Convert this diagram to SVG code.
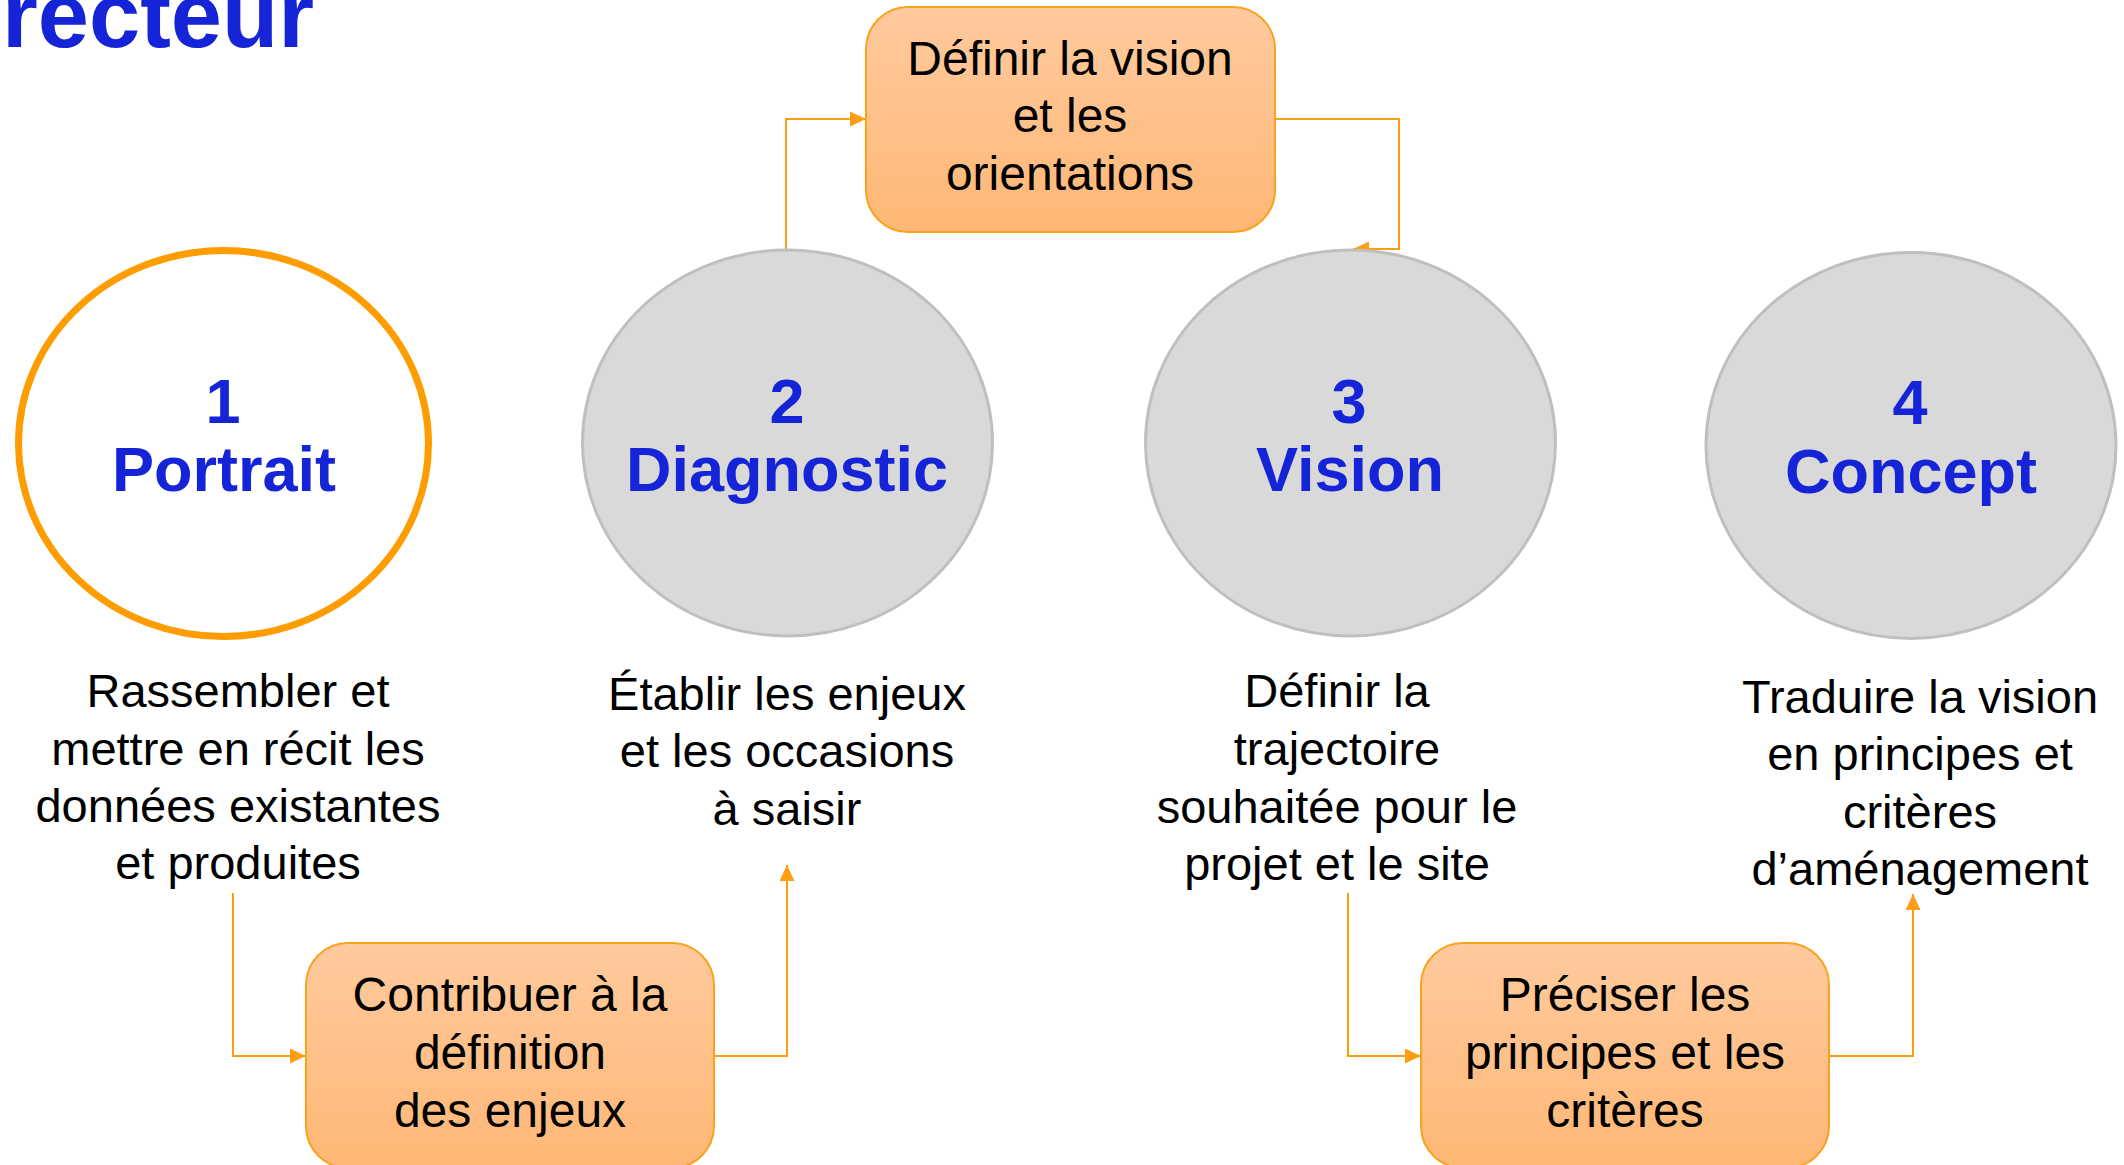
<svg xmlns="http://www.w3.org/2000/svg" width="2124" height="1165" viewBox="0 0 2124 1165">
  <style>
    .desc { font-family: "Liberation Sans", Arial, sans-serif; font-size: 47px; fill: #000; text-anchor: middle; }
    .boxt { font-family: "Liberation Sans", Arial, sans-serif; font-size: 48px; fill: #000; text-anchor: middle; }
    .num { font-family: "Liberation Sans", Arial, sans-serif; font-weight: bold; font-size: 63px; fill: #1424D6; text-anchor: middle; }
    .title { font-family: "Liberation Sans", Arial, sans-serif; font-weight: bold; font-size: 92px; fill: #1424D6; }
    .gray { fill: #D9D9D9; stroke: #BFBFBF; stroke-width: 3; }
    .box { fill: url(#peach); stroke: #F9A21B; stroke-width: 2; }
    .conn { fill: none; stroke: #FF9E12; stroke-width: 2; marker-end: url(#arr); }
  </style>
  <defs>
    <linearGradient id="peach" x1="0" y1="0" x2="0" y2="1">
      <stop offset="0" stop-color="#FFCA9E"/>
      <stop offset="1" stop-color="#FFB775"/>
    </linearGradient>
    <marker id="arr" viewBox="0 0 16 15" refX="16" refY="7.5" markerWidth="16" markerHeight="15" markerUnits="userSpaceOnUse" orient="auto">
      <path d="M0,0 L16,7.5 L0,15 z" fill="#FF9E12"/>
    </marker>
  </defs>
  <rect width="2124" height="1165" fill="#FFFFFF"/>

  <text class="title" x="2" y="47">recteur</text>

  <g id="connectors">
    <path class="conn" d="M786,249 V119 H866"/>
    <path class="conn" d="M1275,119 H1399 V249 H1353"/>
    <path class="conn" d="M233,893 V1056 H306"/>
    <path class="conn" d="M714,1056 H787 V865"/>
    <path class="conn" d="M1348,893 V1056 H1421"/>
    <path class="conn" d="M1829,1056 H1913 V894"/>
  </g>

  <g id="box-vision">
    <rect class="box" x="866" y="7" width="409" height="225" rx="42"/>
    <text class="boxt" x="1070" y="75">Définir la vision</text>
    <text class="boxt" x="1070" y="132">et les</text>
    <text class="boxt" x="1070" y="190">orientations</text>
  </g>

  <g id="node-1">
    <ellipse cx="223.5" cy="443.5" rx="205" ry="193" fill="#FFFFFF" stroke="#FF9C00" stroke-width="7"/>
    <text class="num" x="223" y="423">1</text>
    <text class="num" x="224" y="491">Portrait</text>
  </g>
  <g id="node-2">
    <ellipse class="gray" cx="787.5" cy="443" rx="205" ry="193"/>
    <text class="num" x="787" y="423">2</text>
    <text class="num" x="787" y="491">Diagnostic</text>
  </g>
  <g id="node-3">
    <ellipse class="gray" cx="1350.5" cy="443" rx="205" ry="193"/>
    <text class="num" x="1349" y="423">3</text>
    <text class="num" x="1350" y="491">Vision</text>
  </g>
  <g id="node-4">
    <ellipse class="gray" cx="1911" cy="445.5" rx="205" ry="193"/>
    <text class="num" x="1910" y="424">4</text>
    <text class="num" x="1911" y="493">Concept</text>
  </g>

  <g id="desc-1">
    <text class="desc" x="238" y="707">Rassembler et</text>
    <text class="desc" x="238" y="765">mettre en récit les</text>
    <text class="desc" x="238" y="822">données existantes</text>
    <text class="desc" x="238" y="879">et produites</text>
  </g>
  <g id="desc-2">
    <text class="desc" x="787" y="710">Établir les enjeux</text>
    <text class="desc" x="787" y="767">et les occasions</text>
    <text class="desc" x="787" y="825">à saisir</text>
  </g>
  <g id="desc-3">
    <text class="desc" x="1337" y="707">Définir la</text>
    <text class="desc" x="1337" y="765">trajectoire</text>
    <text class="desc" x="1337" y="823">souhaitée pour le</text>
    <text class="desc" x="1337" y="880">projet et le site</text>
  </g>
  <g id="desc-4">
    <text class="desc" x="1920" y="713">Traduire la vision</text>
    <text class="desc" x="1920" y="770">en principes et</text>
    <text class="desc" x="1920" y="828">critères</text>
    <text class="desc" x="1920" y="885">d’aménagement</text>
  </g>

  <g id="box-enjeux">
    <rect class="box" x="306" y="943" width="408" height="225" rx="42"/>
    <text class="boxt" x="510" y="1011">Contribuer à la</text>
    <text class="boxt" x="510" y="1069">définition</text>
    <text class="boxt" x="510" y="1127">des enjeux</text>
  </g>
  <g id="box-criteres">
    <rect class="box" x="1421" y="943" width="408" height="225" rx="42"/>
    <text class="boxt" x="1625" y="1011">Préciser les</text>
    <text class="boxt" x="1625" y="1069">principes et les</text>
    <text class="boxt" x="1625" y="1127">critères</text>
  </g>
</svg>
